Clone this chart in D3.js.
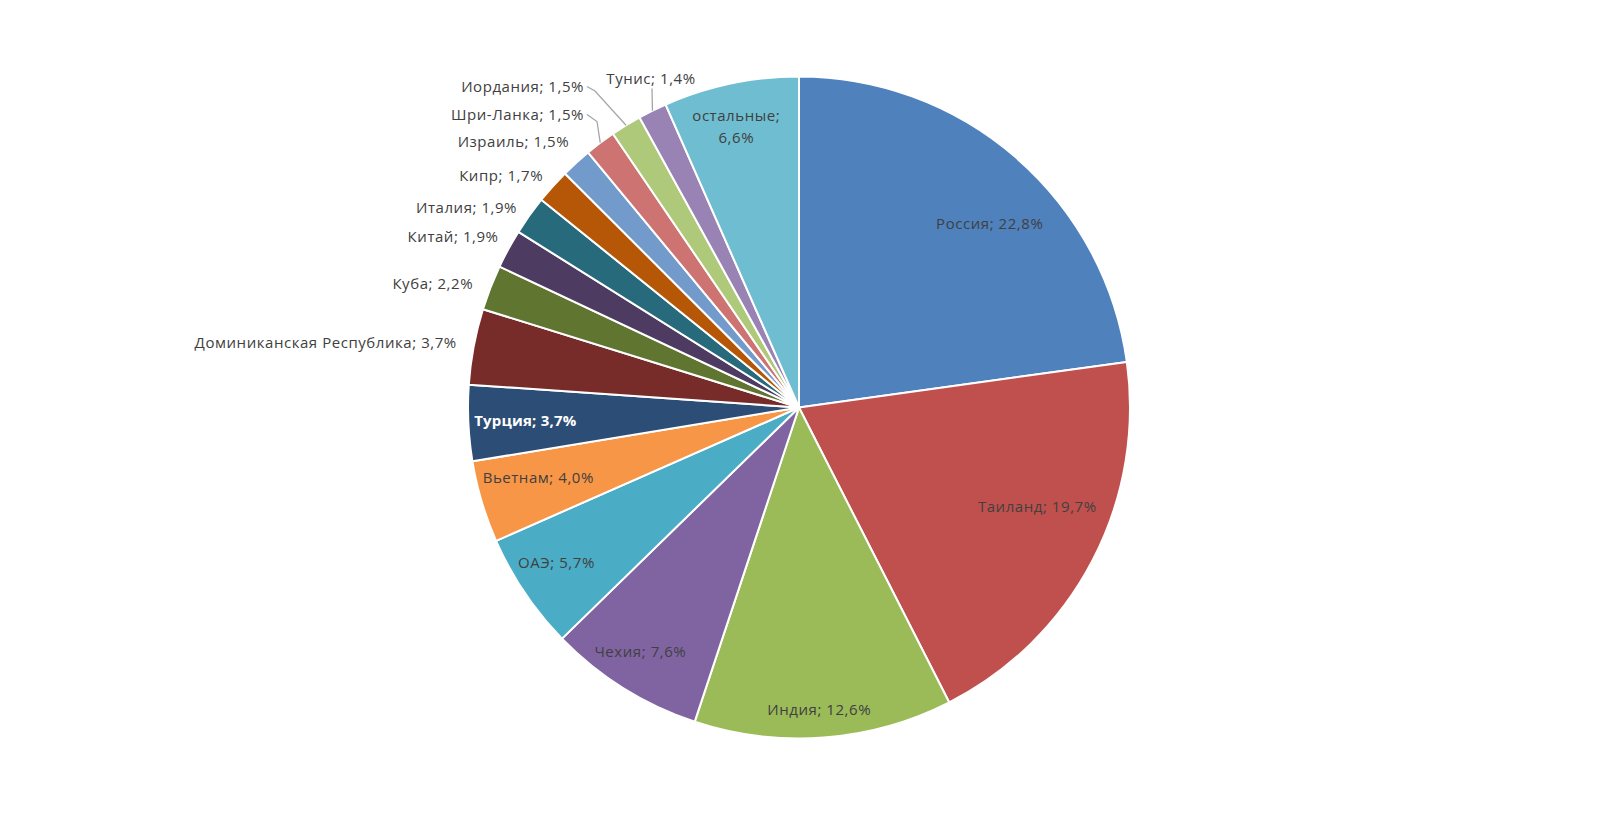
<!DOCTYPE html>
<html><head><meta charset="utf-8">
<script src="https://cdn.jsdelivr.net/npm/d3@7"></script>
<style>html,body{margin:0;padding:0;background:#fff;}svg{display:block;}</style>
</head><body>
<svg id="chart" width="1597" height="817"></svg>
<script>
// ---- data ----
const countries = ["Россия","Таиланд","Индия","Чехия","ОАЭ","Вьетнам","Турция","Доминиканская Республика","Куба","Китай","Италия","Кипр","Израиль","Шри-Ланка","Иордания","Тунис","остальные"];
const shares = [22.8,19.7,12.6,7.6,5.7,4.0,3.7,3.7,2.2,1.9,1.9,1.7,1.5,1.5,1.5,1.4,6.6];
const sliceColors = ["#4F81BD","#C0504D","#9BBB59","#8064A2","#4BACC6","#F79646","#2C4D75","#772C2A","#5F7530","#4D3B62","#276A7C","#B65708","#729ACA","#CD7371","#AFC97A","#9983B5","#6FBDD1"];

// ---- layout (label placement relative to slice mid-angle) ----
const labelLayout = [
  {kind:"in", r:265, da:5},
  {kind:"in", r:258, da:-5},
  {kind:"in", r:303, da:0.5},
  {kind:"in", r:291, da:1},
  {kind:"in", r:288, da:1.4},
  {kind:"in", r:270, da:1.5},
  {kind:"in", r:274, da:0, bold:true, color:"#fff"},
  {kind:"out", r:340, dx:-8, dy:-2},
  {kind:"out", r:340, dx:-9, dy:-1},
  {kind:"out", r:340, dx:-2, dy:-8},
  {kind:"out", r:340, dx:-5, dy:-3},
  {kind:"out", r:340, dx:-3, dy:-5},
  {kind:"out", r:340, dx:-1, dy:-14},
  {kind:"lead", lx:-215, ly:-293, bend:[-202,-286]},
  {kind:"lead", lx:-215, ly:-321, bend:[-204,-316.5]},
  {kind:"leadtop", lx:-148, ly:-329},
  {kind:"in2", r:288, da:-0.7}
];

const cx = 799, cy = 407.5, R = 331;
const svg = d3.select("#chart");
const g = svg.append("g").attr("transform", `translate(${cx},${cy})`);

const data = countries.map((c,i)=>({name:c, value:shares[i], color:sliceColors[i], lay:labelLayout[i]}));
const pie = d3.pie().value(d=>d.value).sort(null);
const arcs = pie(data);
const arc = d3.arc().innerRadius(0).outerRadius(R);

g.selectAll("path.slice").data(arcs).join("path")
  .attr("class","slice")
  .attr("d", arc)
  .attr("fill", d=>d.data.color)
  .attr("stroke","#fff").attr("stroke-width",2).attr("stroke-linejoin","round");

const fmt = v => v.toFixed(1).replace(".", ",") + "%";
const FONT = "'Open Sans', sans-serif";
const FS = 15;
const txtColor = "#404040";
const polar = (a, r) => [r*Math.sin(a), -r*Math.cos(a)];

const lg = g.append("g").attr("font-family", FONT).attr("font-size", FS).attr("letter-spacing", "0.55px");

arcs.forEach(d => {
  const L = d.data.lay;
  const mid = (d.startAngle + d.endAngle)/2;
  const label = d.data.name + "; " + fmt(d.data.value);
  if (L.kind === "in") {
    const [x,y] = polar(mid + L.da*Math.PI/180, L.r);
    lg.append("text").attr("x",x).attr("y",y).attr("dy","0.35em")
      .attr("text-anchor","middle")
      .attr("fill", L.color || txtColor)
      .attr("font-weight", L.bold ? "bold" : null)
      .attr("letter-spacing", L.bold ? "0.2px" : null)
      .text(label);
  } else if (L.kind === "in2") {
    const [x,y] = polar(mid + L.da*Math.PI/180, L.r);
    const t = lg.append("text").attr("text-anchor","middle").attr("fill",txtColor);
    t.append("tspan").attr("x",x).attr("y",y-11).attr("dy","0.35em").text(d.data.name + ";");
    t.append("tspan").attr("x",x).attr("y",y+11).attr("dy","0.35em").text(fmt(d.data.value));
  } else if (L.kind === "out") {
    const [x,y] = polar(mid, L.r);
    lg.append("text").attr("x",x+L.dx).attr("y",y+L.dy).attr("dy","0.35em")
      .attr("text-anchor","end").attr("fill",txtColor).text(label);
  } else if (L.kind === "lead") {
    const [ex,ey] = polar(mid, R);
    g.append("polyline")
      .attr("points", [[L.lx+3, L.ly], L.bend, [ex,ey]].map(p=>p.join(",")).join(" "))
      .attr("fill","none").attr("stroke","#A6A6A6").attr("stroke-width",1.3);
    lg.append("text").attr("x",L.lx).attr("y",L.ly).attr("dy","0.35em")
      .attr("text-anchor","end").attr("fill",txtColor).text(label);
  } else if (L.kind === "leadtop") {
    const [ex,ey] = polar(mid, R);
    g.append("line").attr("x1",L.lx+1).attr("y1",L.ly+10).attr("x2",ex).attr("y2",ey)
      .attr("stroke","#A6A6A6").attr("stroke-width",1.3);
    lg.append("text").attr("x",L.lx).attr("y",L.ly).attr("dy","0.35em")
      .attr("text-anchor","middle").attr("fill",txtColor).text(label);
  }
});
</script>
</body></html>
